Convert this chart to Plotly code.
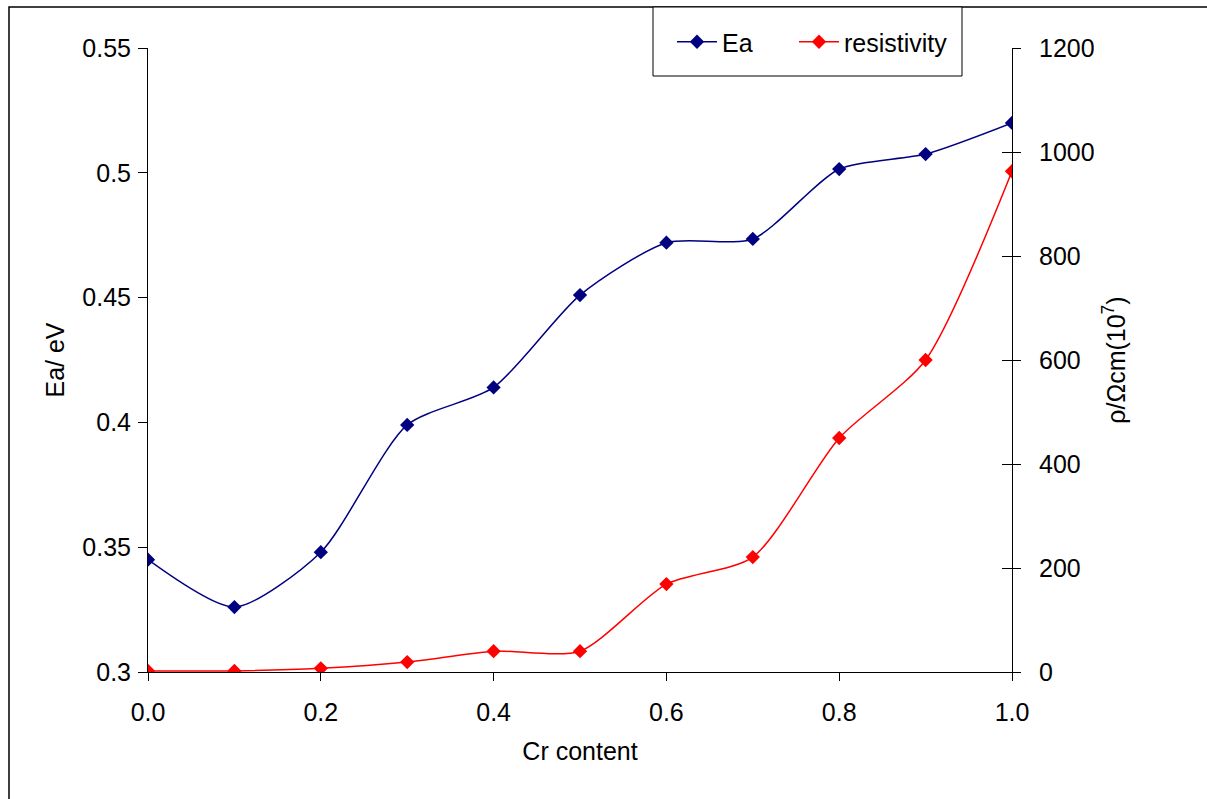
import plotly.graph_objects as go

cr_content = [0.0, 0.1, 0.2, 0.3, 0.4, 0.5, 0.6, 0.7, 0.8, 0.9, 1.0]
ea_values = [0.345, 0.326, 0.348, 0.399, 0.414, 0.451, 0.472, 0.4735, 0.5015, 0.5075, 0.520]
resistivity_values = [2, 2, 7, 19, 40, 40, 169, 221, 450, 600, 963]

FONT = "Liberation Sans, Arial, sans-serif"
FS = 25

fig = go.Figure()
fig.add_trace(go.Scatter(
    x=cr_content, y=ea_values, name="Ea", mode="lines+markers",
    line=dict(color="#000080", width=1.5, shape="spline", smoothing=0.7),
    marker=dict(symbol="diamond", size=11, color="#000080"),
    yaxis="y", legend="legend"))
fig.add_trace(go.Scatter(
    x=cr_content, y=resistivity_values, name="resistivity", mode="lines+markers",
    line=dict(color="#FF0000", width=1.5, shape="spline", smoothing=0.7),
    marker=dict(symbol="diamond", size=11, color="#FF0000"),
    yaxis="y2", legend="legend2"))
# invisible helper trace for inside ticks on the right axis
fig.add_trace(go.Scatter(x=[0], y=[0], yaxis="y3", showlegend=False,
                         mode="markers", marker=dict(opacity=0), hoverinfo="skip"))

axis_common = dict(showgrid=False, zeroline=False, showline=True, linecolor="black",
                   linewidth=1, tickcolor="black",
                   tickfont=dict(family=FONT, size=FS, color="black"))

legend_common = dict(orientation="h", xanchor="left", yanchor="middle",
                     y=(672 - 42) / 624, bgcolor="rgba(0,0,0,0)", borderwidth=0,
                     font=dict(family=FONT, size=FS, color="black"), itemwidth=40)

fig.update_layout(
    width=1207, height=799,
    margin=dict(l=148, r=195, t=48, b=127),
    paper_bgcolor="white", plot_bgcolor="white",
    font=dict(family=FONT, size=FS, color="black"),
    xaxis=dict(range=[0, 1.0], dtick=0.2, tickformat=".1f", ticks="outside", ticklen=8,
               ticklabelstandoff=10,
               title=dict(text="Cr content", font=dict(family=FONT, size=FS), standoff=17),
               **axis_common),
    yaxis=dict(range=[0.3, 0.55], dtick=0.05, ticks="outside", ticklen=9,
               ticklabelstandoff=2,
               title=dict(text="Ea/ eV", font=dict(family=FONT, size=FS), standoff=10),
               **axis_common),
    yaxis2=dict(range=[0, 1200], dtick=200, ticks="outside", ticklen=8, overlaying="y",
                side="right", ticklabelstandoff=13,
                title=dict(text="ρ/Ωcm(10<sup>7</sup>)", font=dict(family=FONT, size=FS), standoff=13),
                **axis_common),
    yaxis3=dict(range=[0, 1200], dtick=200, ticks="inside", ticklen=10, overlaying="y",
                side="right", showticklabels=False, showline=False, showgrid=False,
                zeroline=False, tickcolor="black"),
    showlegend=True,
    legend=dict(x=(672 - 148) / 864, **legend_common),
    legend2=dict(x=(794 - 148) / 864, **legend_common),
)

# outer frame
fig.add_shape(type="rect", xref="paper", yref="paper",
              x0=(9 - 148) / 864, x1=(1215 - 148) / 864,
              y0=(672 - 810) / 624, y1=(672 - 7) / 624,
              line=dict(color="black", width=1.5), fillcolor="rgba(0,0,0,0)", layer="below")
# legend box
fig.add_shape(type="rect", xref="paper", yref="paper",
              x0=(653 - 148) / 864, x1=(962 - 148) / 864,
              y0=(672 - 76) / 624, y1=(672 - 7) / 624,
              line=dict(color="black", width=1), fillcolor="white", layer="above")

fig.write_html("out.html", config={"displayModeBar": False},
               post_script="document.body.style.margin='0px';")
